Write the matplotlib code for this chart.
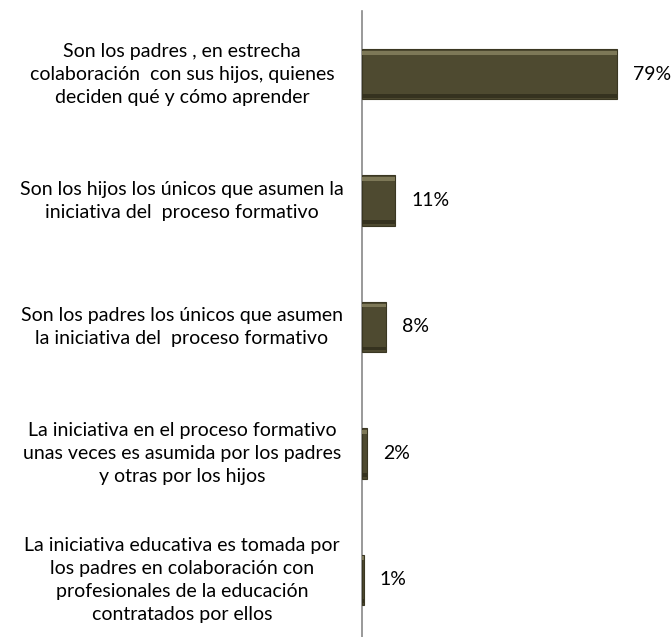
import matplotlib
matplotlib.use("Agg")
import matplotlib.pyplot as plt

categories = [
    "Son los padres , en estrecha\ncolaboración  con sus hijos, quienes\ndeciden qué y cómo aprender",
    "Son los hijos los únicos que asumen la\niniciativa del  proceso formativo",
    "Son los padres los únicos que asumen\nla iniciativa del  proceso formativo",
    "La iniciativa en el proceso formativo\nunas veces es asumida por los padres\ny otras por los hijos",
    "La iniciativa educativa es tomada por\nlos padres en colaboración con\nprofesionales de la educación\ncontratados por ellos",
]
values = [78.8, 10.3, 7.4, 1.5, 0.6]
value_labels = ["79%", "11%", "8%", "2%", "1%"]

W, H = 672, 637
fig = plt.figure(figsize=(W / 100, H / 100), dpi=100)
ax_left = 362 / W
ax = fig.add_axes([ax_left, -6 / H, 1 - ax_left, (643 - 11) / H])

ypos = list(range(len(categories)))
ax.barh(ypos, values, height=0.4, color="#4e4a30", edgecolor="#3a3722", linewidth=0.8, zorder=3)
# subtle bevel highlight
ax.barh([y - 0.17 for y in ypos], values, height=0.03, color="#7d7857", linewidth=0, zorder=4)
ax.barh([y + 0.17 for y in ypos], values, height=0.03, color="#35321f", linewidth=0, zorder=4)

xmax = (W - 362) / 3.24
ax.set_xlim(0, xmax)
ax.set_ylim(len(categories) - 0.5, -0.5)
for s in ["top", "right", "bottom"]:
    ax.spines[s].set_visible(False)
ax.spines["left"].set_color("#888888")
ax.spines["left"].set_linewidth(1.2)
ax.set_xticks([])
ax.set_yticks([])

fam = ["Lato", "DejaVu Sans"]
px = xmax / (W - 362)
for y, v, lab in zip(ypos, values, value_labels):
    ax.text(v + 16 * px, y, lab, va="center", ha="left", fontsize=14, family=fam, color="#000000")

for y, cat in zip(ypos, categories):
    ax.text(-180 * px, y, cat, va="center", ha="center", multialignment="center",
            fontsize=14, family=fam, color="#000000", linespacing=1.43,
            clip_on=False)

fig.savefig("out.png", dpi=100)
